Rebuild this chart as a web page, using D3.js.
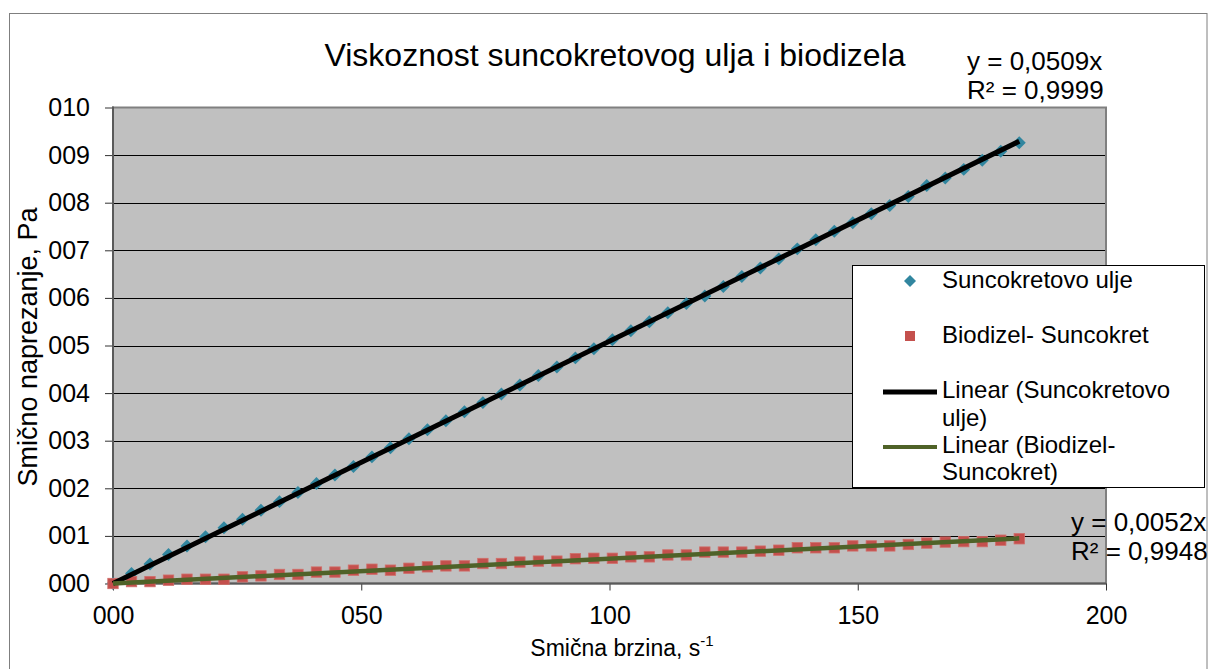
<!DOCTYPE html>
<html><head><meta charset="utf-8">
<script src="https://cdn.jsdelivr.net/npm/d3@7"></script>
<style>
html,body{margin:0;padding:0;background:#fff;}
text{font-family:"Liberation Sans",Arial,sans-serif;fill:#000;}
</style></head>
<body>
<svg id="chart" width="1208" height="669"></svg>
<script>
const shearRate = [0, 3.73, 7.45, 11.18, 14.9, 18.63, 22.35, 26.08, 29.8, 33.53, 37.25, 40.98, 44.7, 48.43, 52.15, 55.88, 59.6, 63.33, 67.05, 70.78, 74.5, 78.23, 81.95, 85.68, 89.4, 93.13, 96.85, 100.58, 104.3, 108.03, 111.75, 115.48, 119.2, 122.93, 126.65, 130.38, 134.1, 137.83, 141.55, 145.28, 149, 152.73, 156.45, 160.18, 163.9, 167.63, 171.35, 175.08, 178.8, 182.53];
const sunflowerOil = [0.00, 0.21, 0.41, 0.61, 0.79, 0.98, 1.17, 1.35, 1.54, 1.72, 1.91, 2.10, 2.28, 2.46, 2.66, 2.85, 3.04, 3.23, 3.42, 3.61, 3.80, 3.98, 4.17, 4.37, 4.55, 4.74, 4.93, 5.12, 5.31, 5.50, 5.69, 5.88, 6.04, 6.24, 6.45, 6.63, 6.82, 7.03, 7.22, 7.40, 7.58, 7.77, 7.94, 8.13, 8.36, 8.52, 8.70, 8.89, 9.08, 9.26];
const biodiesel = [0.00, 0.04, 0.04, 0.07, 0.09, 0.09, 0.09, 0.14, 0.16, 0.19, 0.19, 0.24, 0.24, 0.28, 0.30, 0.28, 0.32, 0.35, 0.37, 0.37, 0.42, 0.42, 0.45, 0.47, 0.47, 0.52, 0.53, 0.53, 0.56, 0.56, 0.60, 0.60, 0.66, 0.66, 0.66, 0.68, 0.70, 0.75, 0.75, 0.75, 0.79, 0.79, 0.79, 0.82, 0.85, 0.87, 0.88, 0.88, 0.91, 0.94];
const seriesNames = ["Suncokretovo ulje", "Biodizel- Suncokret"];
const trendSlopes = [0.0509, 0.0052];
const trendLabels = [["y = 0,0509x", "R² = 0,9999"], ["y = 0,0052x", "R² = 0,9948"]];
const xTicks = [0, 50, 100, 150, 200];
const yTicks = [0, 1, 2, 3, 4, 5, 6, 7, 8, 9, 10];
const titleText = "Viskoznost suncokretovog ulja i biodizela";
const xTitle = "Smična brzina, s";
const xTitleSup = "-1";
const yTitle = "Smično naprezanje, Pa";

const svg = d3.select("#chart");
const L = 113, R = 1106, T = 107.5, B = 583.5;
const x = d3.scaleLinear().domain([0, 200]).range([L, R]);
const y = d3.scaleLinear().domain([0, 10]).range([B, T]);
const fmt = d3.format("03d");

// outer chart border
svg.append("rect").attr("x", 9.5).attr("y", 13.5).attr("width", 1197.5).attr("height", 700)
  .attr("fill", "#fff").attr("stroke", "#7f7f7f").attr("stroke-width", 1);

// plot area
svg.append("rect").attr("x", L).attr("y", T).attr("width", R - L).attr("height", B - T)
  .attr("fill", "#c0c0c0");
svg.append("g").selectAll("line").data(yTicks.filter(d => d > 0 && d < 10)).join("line")
  .attr("x1", L).attr("x2", R).attr("y1", d => Math.round(y(d)) + 0.5).attr("y2", d => Math.round(y(d)) + 0.5)
  .attr("stroke", "#000").attr("stroke-width", 1);
svg.append("rect").attr("x", L).attr("y", T).attr("width", R - L).attr("height", B - T)
  .attr("fill", "none").attr("stroke", "#808080").attr("stroke-width", 2);

// axes
const yAxis = svg.append("g").attr("transform", `translate(${L},0)`)
  .call(d3.axisLeft(y).tickValues(yTicks).tickFormat(fmt).tickSize(8).tickPadding(15));
const xAxis = svg.append("g").attr("transform", `translate(0,${B})`)
  .call(d3.axisBottom(x).tickValues(xTicks).tickFormat(fmt).tickSize(7).tickPadding(16));
[yAxis, xAxis].forEach(g => {
  g.select(".domain").remove();
  g.selectAll(".tick line").attr("stroke", "#333").attr("stroke-width", 1);
  g.selectAll(".tick text").style("font-size", "25px").style("font-family", '"Liberation Sans",Arial,sans-serif').attr("fill", "#000");
});
svg.append("line").attr("x1", L).attr("x2", L).attr("y1", T - 1).attr("y2", B + 1).attr("stroke", "#5a5a5a").attr("stroke-width", 2);
svg.append("line").attr("x1", L).attr("x2", R).attr("y1", B).attr("y2", B).attr("stroke", "#5a5a5a").attr("stroke-width", 2);

// data markers
const blueData = shearRate.map((v, i) => [v, sunflowerOil[i]]);
const redData = shearRate.map((v, i) => [v, biodiesel[i]]);
const diamond = d3.symbol(d3.symbolSquare, 84);
svg.append("g").selectAll("path").data(blueData).join("path")
  .attr("d", diamond).attr("transform", d => `translate(${x(d[0])},${y(d[1])}) rotate(45)`)
  .attr("fill", "#31869f");
svg.append("g").selectAll("rect").data(redData).join("rect")
  .attr("x", d => x(d[0]) - 5.2).attr("y", d => y(d[1]) - 5.2).attr("width", 10.4).attr("height", 10.4)
  .attr("fill", "#c4504d").attr("stroke", "#d06e6a").attr("stroke-width", 0.8);

// trendlines
const xMax = d3.max(shearRate);
const lineGen = d3.line().x(d => x(d[0])).y(d => y(d[1]));
const trendColors = ["#000000", "#4f6228"];
const trendWidths = [5, 4.5];
trendSlopes.forEach((s, i) => {
  svg.append("path").datum([[0, 0], [xMax, s * xMax]]).attr("d", lineGen)
    .attr("stroke", trendColors[i]).attr("stroke-width", trendWidths[i]).attr("fill", "none");
});

// trendline labels
const labelPos = [[967, 70], [1071, 531]];
trendLabels.forEach((lines, i) => {
  const t = svg.append("text").attr("x", labelPos[i][0]).attr("y", labelPos[i][1]).style("font-size", "26px");
  lines.forEach((ln, j) => t.append("tspan").attr("x", labelPos[i][0]).attr("dy", j === 0 ? 0 : 29).text(ln));
});

// title
svg.append("text").attr("x", 615).attr("y", 66).attr("text-anchor", "middle").style("font-size", "32px").text(titleText);

// axis titles
const xt = svg.append("text").attr("x", 622).attr("y", 656).attr("text-anchor", "middle").style("font-size", "23px");
xt.append("tspan").text(xTitle);
xt.append("tspan").attr("dy", -10).style("font-size", "15px").text(xTitleSup);
svg.append("text").attr("transform", "translate(37,347) rotate(-90)").attr("text-anchor", "middle")
  .style("font-size", "27px").text(yTitle);

// legend
const lg = svg.append("g");
lg.append("rect").attr("x", 852.5).attr("y", 265.5).attr("width", 352).attr("height", 222)
  .attr("fill", "#fff").attr("stroke", "#000").attr("stroke-width", 1);
lg.append("path").attr("d", d3.symbol(d3.symbolSquare, 72)).attr("transform", "translate(910,281) rotate(45)").attr("fill", "#31869f");
lg.append("rect").attr("x", 905).attr("y", 331).attr("width", 10).attr("height", 10).attr("fill", "#c4504d");
lg.append("line").attr("x1", 883).attr("x2", 937).attr("y1", 392).attr("y2", 392).attr("stroke", "#000").attr("stroke-width", 5);
lg.append("line").attr("x1", 883).attr("x2", 937).attr("y1", 447).attr("y2", 447).attr("stroke", "#4f6228").attr("stroke-width", 4);
const legendLines = [
  [seriesNames[0], 288],
  [seriesNames[1], 343],
  ["Linear (" + seriesNames[0].split(" ")[0], 398],
  [seriesNames[0].split(" ")[1] + ")", 426],
  ["Linear (" + seriesNames[1].split(" ")[0], 453],
  [seriesNames[1].split(" ")[1] + ")", 480]
];
lg.selectAll("text.leg").data(legendLines).join("text").attr("class", "leg")
  .attr("x", 942).attr("y", d => d[1]).style("font-size", "24px").text(d => d[0]);
</script>
</body></html>
